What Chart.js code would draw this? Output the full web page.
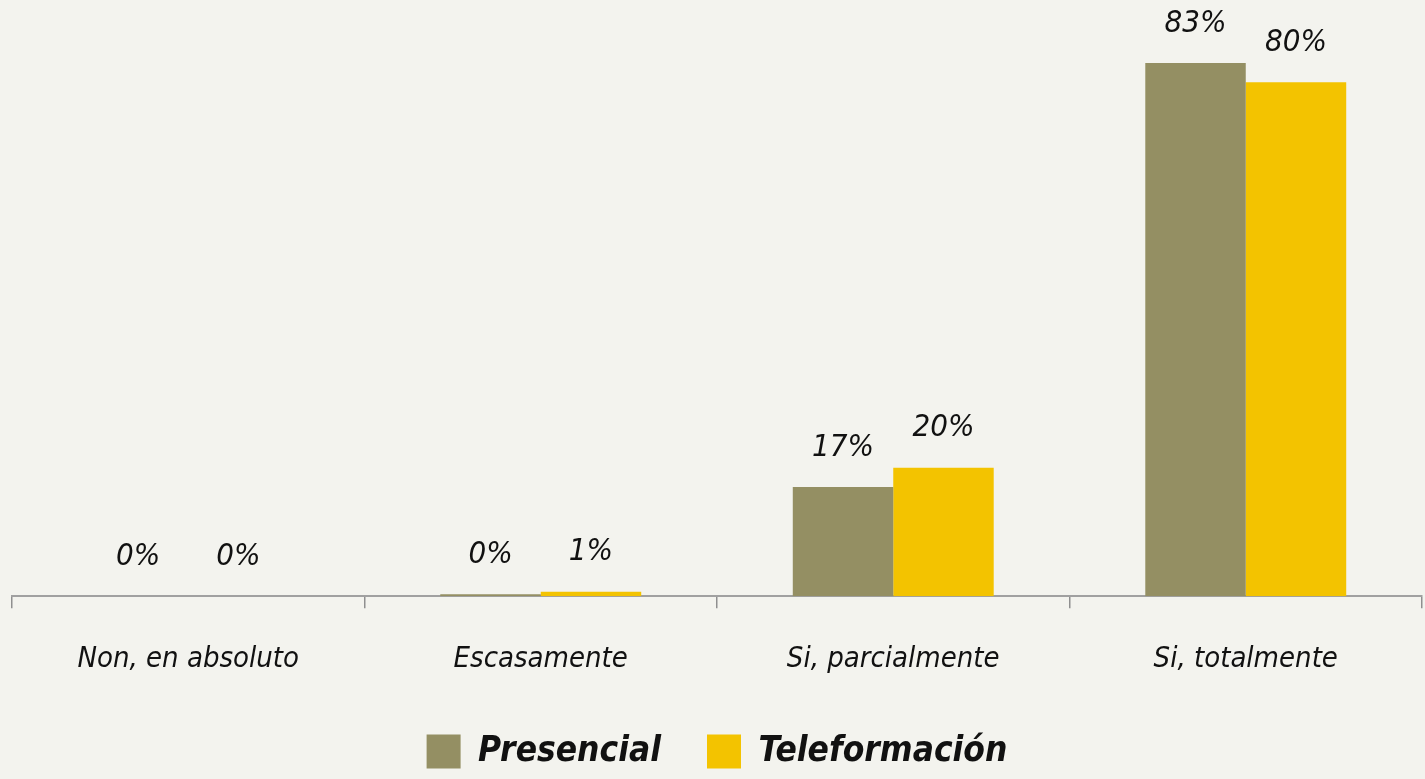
<!DOCTYPE html>
<html>
<head>
<meta charset="utf-8">
<script src="https://cdn.jsdelivr.net/npm/chart.js@4"></script>
<style>
  html, body { margin: 0; padding: 0; background: #f3f3ee; }
  .chart-container { position: relative; width: 1425px; height: 779px; }
</style>
</head>
<body>
<div class="chart-container"><canvas id="chart"></canvas></div>
<script>
// Datos
const categorias = ["Non, en absoluto", "Escasamente", "Si, parcialmente", "Si, totalmente"];
const presencial = [0, 0.3, 17, 83];
const teleformacion = [0, 0.7, 20, 80];

const fuente = "'Liberation Sans Narrow', 'DejaVu Sans Condensed', sans-serif";

// Etiquetas de valor encima de las barras
const etiquetas = {
  id: "etiquetas",
  afterDatasetsDraw(chart) {
    const ctx = chart.ctx;
    ctx.save();
    ctx.fillStyle = "#111";
    ctx.font = "italic 31px " + fuente;
    ctx.textAlign = "center";
    ctx.textBaseline = "bottom";
    chart.data.datasets.forEach((ds, i) => {
      chart.getDatasetMeta(i).data.forEach((bar, j) => {
        ctx.fillText(Math.round(ds.data[j]) + "%", bar.x, bar.y - 24);
      });
    });
    ctx.restore();
  },
};

new Chart(document.getElementById("chart").getContext("2d"), {
  type: "bar",
  data: {
    labels: categorias,
    datasets: [
      { label: "Presencial", data: presencial, backgroundColor: "#948f63" },
      { label: "Teleformación", data: teleformacion, backgroundColor: "#f3c300" },
    ],
  },
  options: {
    responsive: true,
    maintainAspectRatio: false,
    animation: false,
    layout: { padding: { left: 12, right: 3, top: 0, bottom: 0 } },
    datasets: { bar: { barPercentage: 1, categoryPercentage: 0.57 } },
    scales: {
      x: {
        grid: { drawOnChartArea: false, color: "#8f8f8f", lineWidth: 1.5, tickLength: 12 },
        border: { color: "#a0a0a0", width: 2 },
        ticks: { color: "#111", font: { family: fuente, size: 29, style: "italic" }, padding: 34 },
        afterFit: (scale) => { scale.height -= 23; },
      },
      y: { display: false, min: 0, max: 92.8 },
    },
    plugins: {
      legend: {
        position: "bottom",
        labels: {
          color: "#111",
          font: { family: fuente, size: 35, style: "italic", weight: "bold" },
          boxWidth: 34,
          boxHeight: 34,
          padding: 46,
        },
      },
      tooltip: { enabled: false },
    },
  },
  plugins: [etiquetas],
});
</script>
</body>
</html>
